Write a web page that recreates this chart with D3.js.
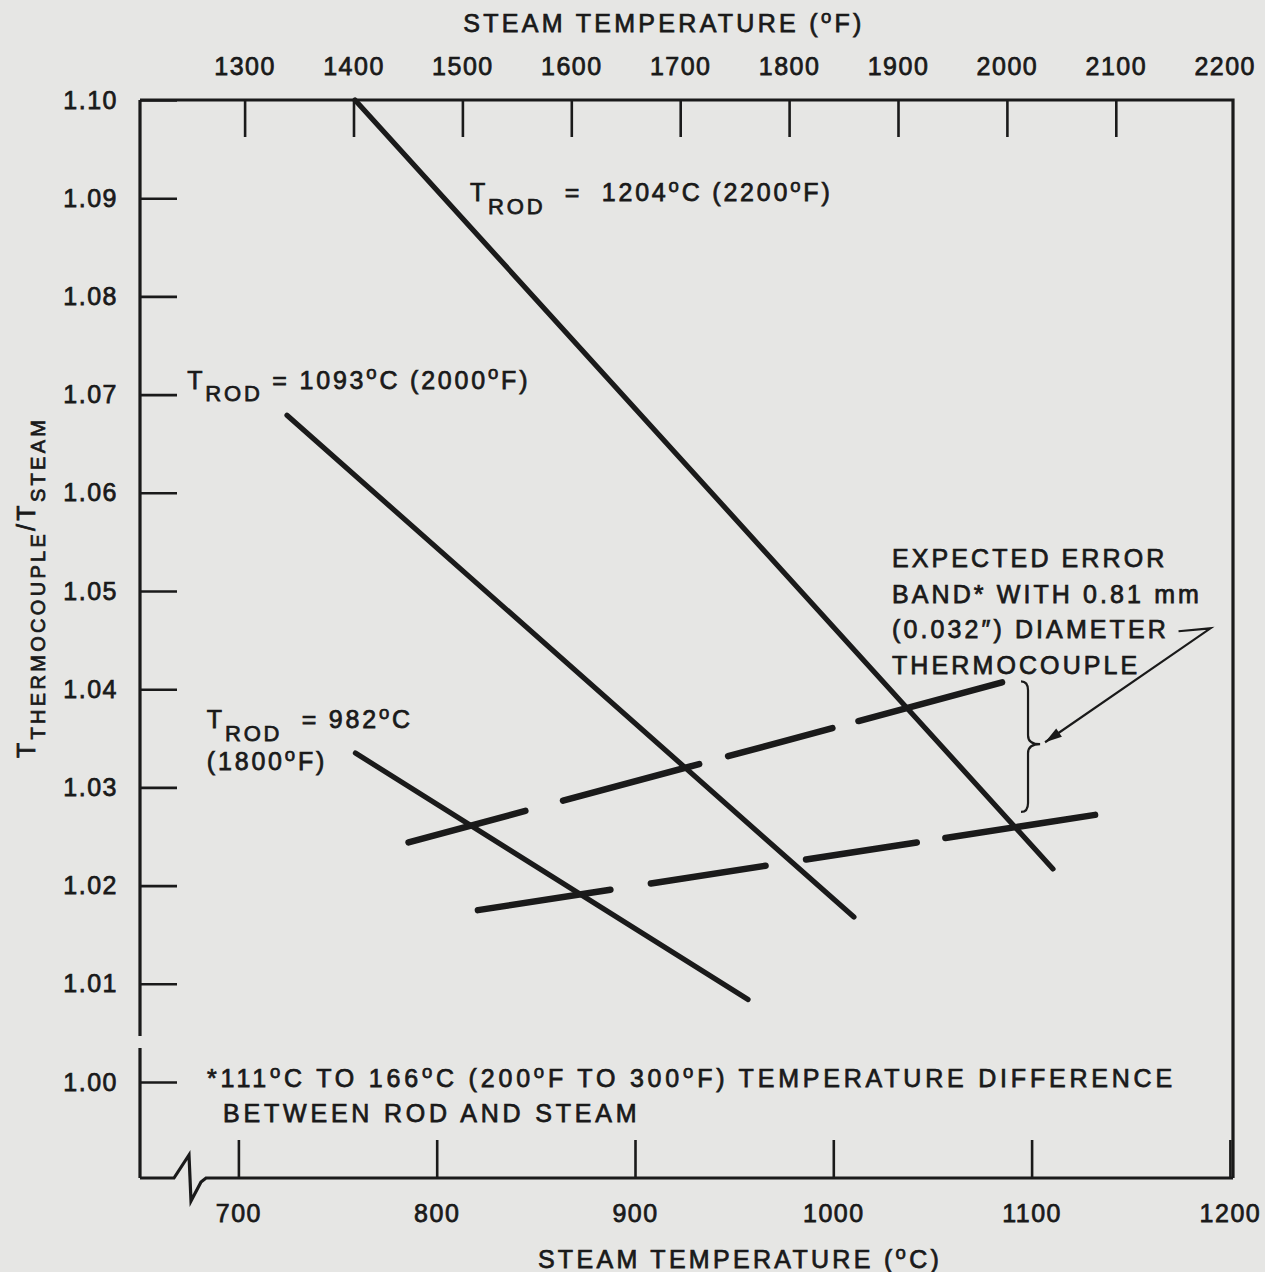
<!DOCTYPE html>
<html><head><meta charset="utf-8">
<script src="https://cdn.jsdelivr.net/npm/d3@7"></script>
<style>
html,body{margin:0;padding:0;background:#e6e6e4;}
svg{display:block;}
text{font-family:"Liberation Sans",Arial,sans-serif;fill:#1a1a1a;stroke:#1a1a1a;stroke-width:0.75px;white-space:pre;}
</style></head><body>
<svg id="chart" width="1265" height="1272"></svg>
<script>
// ---------- data ----------
const celsiusTicks = [700, 800, 900, 1000, 1100, 1200];
const fahrenheitTicks = [1300, 1400, 1500, 1600, 1700, 1800, 1900, 2000, 2100, 2200];
const ratioTicks = [1.00, 1.01, 1.02, 1.03, 1.04, 1.05, 1.06, 1.07, 1.08, 1.09, 1.10];

// steam temperature (°C) vs T_thermocouple / T_steam
const rod1204 = [{c: 758.8, r: 1.1000}, {c: 1110.8, r: 1.0217}];
const rod1093 = [{c: 724.5, r: 1.0679}, {c: 1010.4, r: 1.0168}];
const rod982  = [{c: 759.0, r: 1.0335}, {c: 957.0, r: 1.0084}];
const bandUpper = [{c: 785.8, r: 1.0244}, {c: 1085.1, r: 1.0407}];
const bandLower = [{c: 820.8, r: 1.0175}, {c: 1132.0, r: 1.0272}];

const rodLabels = [
  {lines: ["T_{ROD}  =  1204^oC (2200^oF)"], c: 816.8, r: 1.0897},
  {lines: ["T_{ROD} = 1093^oC (2000^oF)"], c: 674.2, r: 1.0706},
  {lines: ["T_{ROD}  = 982^oC", "(1800^oF)"], c: 684.1, r: 1.0360}
];
const bandNote = ["EXPECTED ERROR", "BAND* WITH 0.81 mm", "(0.032\u2033) DIAMETER", "THERMOCOUPLE"];
const footNote = ["*111^oC TO 166^oC (200^oF TO 300^oF) TEMPERATURE DIFFERENCE", "BETWEEN ROD AND STEAM"];
// brace marking the band at ~1100 °C, and arrow from note
const brace = {c: 1098.2, cTip: 1104.3, rTop: 1.0408, rMid: 1.0344, rBot: 1.0275};
const arrowPts = [{c: 1174.1, r: 1.0459}, {c: 1190.2, r: 1.0462}, {c: 1106.8, r: 1.0346}];

// ---------- layout ----------
const W = 1265, H = 1272;
const pLeft = 140, pRight = 1233, pTop = 100, pBottom = 1178;
const ink = "#1a1a1a";

const svg = d3.select("#chart");
svg.append("rect").attr("width", W).attr("height", H).attr("fill", "#e6e6e4");

const x = d3.scaleLinear().domain([700, 1200]).range([238.4, 1229.9]);
const xF = d3.scaleLinear().domain([1300, 2200]).range([244.6, 1224.7]);
const y = d3.scaleLinear().domain([1.00, 1.10]).range([1082, 100]);

function richText(parent, x0, y0, str, o = {}) {
  const size = o.size || 25;
  const t = parent.append("text").attr("x", x0).attr("y", y0)
    .style("font-size", size + "px").style("letter-spacing", (o.ls ?? 3) + "px");
  if (o.anchor) t.attr("text-anchor", o.anchor);
  if (o.transform) t.attr("transform", o.transform);
  const parts = str.split(/(\^o|_\{[^}]*\})/).filter(s => s.length);
  let shift = 0;
  parts.forEach(p => {
    let target = 0, text = p, fs = size;
    if (p === "^o") { target = -0.38 * size; text = "o"; fs = 0.74 * size; }
    else if (p.startsWith("_{")) { target = (o.subShift ?? 0.5) * size; text = p.slice(2, -1); fs = (o.subSize ?? 0.88) * size; }
    t.append("tspan").attr("dy", target - shift).style("font-size", fs + "px").text(text);
    shift = target;
  });
  return t;
}

// ---------- axes ----------
function styleAxis(g) {
  g.attr("font-size", null).attr("font-family", null);
  g.select(".domain").remove();
  g.selectAll(".tick line").attr("stroke", ink).attr("stroke-width", 2.6);
  g.selectAll(".tick text").style("font-size", "25px").style("letter-spacing", "1.5px");
}
const gTop = svg.append("g").attr("transform", `translate(0,${pTop})`)
  .call(d3.axisTop(xF).tickValues(fahrenheitTicks).tickSize(-37).tickPadding(25).tickFormat(d3.format("d")));
styleAxis(gTop);
gTop.selectAll(".tick").filter(d => d >= 2200).select("line").remove();

const gBot = svg.append("g").attr("transform", `translate(0,${pBottom})`)
  .call(d3.axisBottom(x).tickValues(celsiusTicks).tickSize(-38).tickPadding(26).tickFormat(d3.format("d")));
styleAxis(gBot);

const gLeft = svg.append("g").attr("transform", `translate(${pLeft},0)`)
  .call(d3.axisLeft(y).tickValues(ratioTicks).tickSize(-37).tickPadding(22).tickFormat(d3.format(".2f")));
styleAxis(gLeft);

// frame
const frame = svg.append("g").attr("fill", "none").attr("stroke", ink).attr("stroke-width", 3.2);
frame.append("path").attr("d", `M${pLeft},${pTop}H${pRight}V${pBottom}`);
frame.append("path").attr("d", `M${pLeft},${pTop}V1036M${pLeft},1048V${pBottom}`);
frame.append("path").attr("stroke-linejoin", "miter")
  .attr("d", `M${pLeft},${pBottom}H174L189,${pBottom - 23}L191,${pBottom + 23}L201,${pBottom + 4}L206,${pBottom}H${pRight}`);

// ---------- data lines ----------
const line = d3.line().x(d => x(d.c)).y(d => y(d.r));
const solid = svg.append("g").attr("fill", "none").attr("stroke", ink).attr("stroke-width", 5.2).attr("stroke-linecap", "round");
[rod1204, rod1093, rod982].forEach(s => solid.append("path").attr("d", line(s)));

const dashed = svg.append("g").attr("fill", "none").attr("stroke", ink).attr("stroke-width", 6.5).attr("stroke-linecap", "round");
dashed.append("path").attr("d", line(bandUpper)).attr("stroke-dasharray", "121 39 141 30 108 27 150");
dashed.append("path").attr("d", line(bandLower)).attr("stroke-dasharray", "134 41 116 41 112 29 160");

// ---------- annotations ----------
const ann = svg.append("g");
rodLabels.forEach(l => {
  l.lines.forEach((s, i) => richText(ann, x(l.c), y(l.r) + i * 42, s, {size: 25, ls: 2.8, subShift: 0.5, subSize: 0.88}));
});
bandNote.forEach((s, i) => richText(ann, 892, 567 + i * 35.7, s, {size: 25, ls: 3.1}));
footNote.forEach((s, i) => richText(ann, i === 0 ? 207 : 223, 1087 + i * 35, s, {size: 25, ls: 3.8}));

// brace
const bx = x(brace.c), bt = x(brace.cTip), yT = y(brace.rTop), yM = y(brace.rMid), yB = y(brace.rBot);
ann.append("path").attr("fill", "none").attr("stroke", ink).attr("stroke-width", 2.2)
  .attr("d", `M${bx - 7},${yT} Q${bx},${yT} ${bx},${yT + 9} L${bx},${yM - 9} Q${bx},${yM} ${bt},${yM} Q${bx},${yM} ${bx},${yM + 9} L${bx},${yB - 9} Q${bx},${yB} ${bx - 7},${yB}`);

// arrow
const ap = arrowPts.map(d => [x(d.c), y(d.r)]);
ann.append("path").attr("fill", "none").attr("stroke", ink).attr("stroke-width", 2.2)
  .attr("d", d3.line()(ap));
const tip = ap[2], from = ap[1];
const ang = Math.atan2(tip[1] - from[1], tip[0] - from[0]);
const L = 17, Wd = 5;
const bxh = tip[0] - L * Math.cos(ang), byh = tip[1] - L * Math.sin(ang);
ann.append("path").attr("fill", ink)
  .attr("d", `M${tip[0]},${tip[1]}L${bxh + Wd * Math.sin(ang)},${byh - Wd * Math.cos(ang)}L${bxh - Wd * Math.sin(ang)},${byh + Wd * Math.cos(ang)}Z`);

// ---------- titles ----------
richText(svg, 664, 32, "STEAM TEMPERATURE (^oF)", {size: 25, ls: 3.3, anchor: "middle"});
richText(svg, 740, 1268, "STEAM TEMPERATURE (^oC)", {size: 25, ls: 3.3, anchor: "middle"});
richText(svg, 0, 0, "T_{THERMOCOUPLE}/T_{STEAM}", {size: 25, ls: 3.3, subShift: 0.4, subSize: 0.8, transform: "translate(35,758) rotate(-90)"});
</script>
</body></html>
